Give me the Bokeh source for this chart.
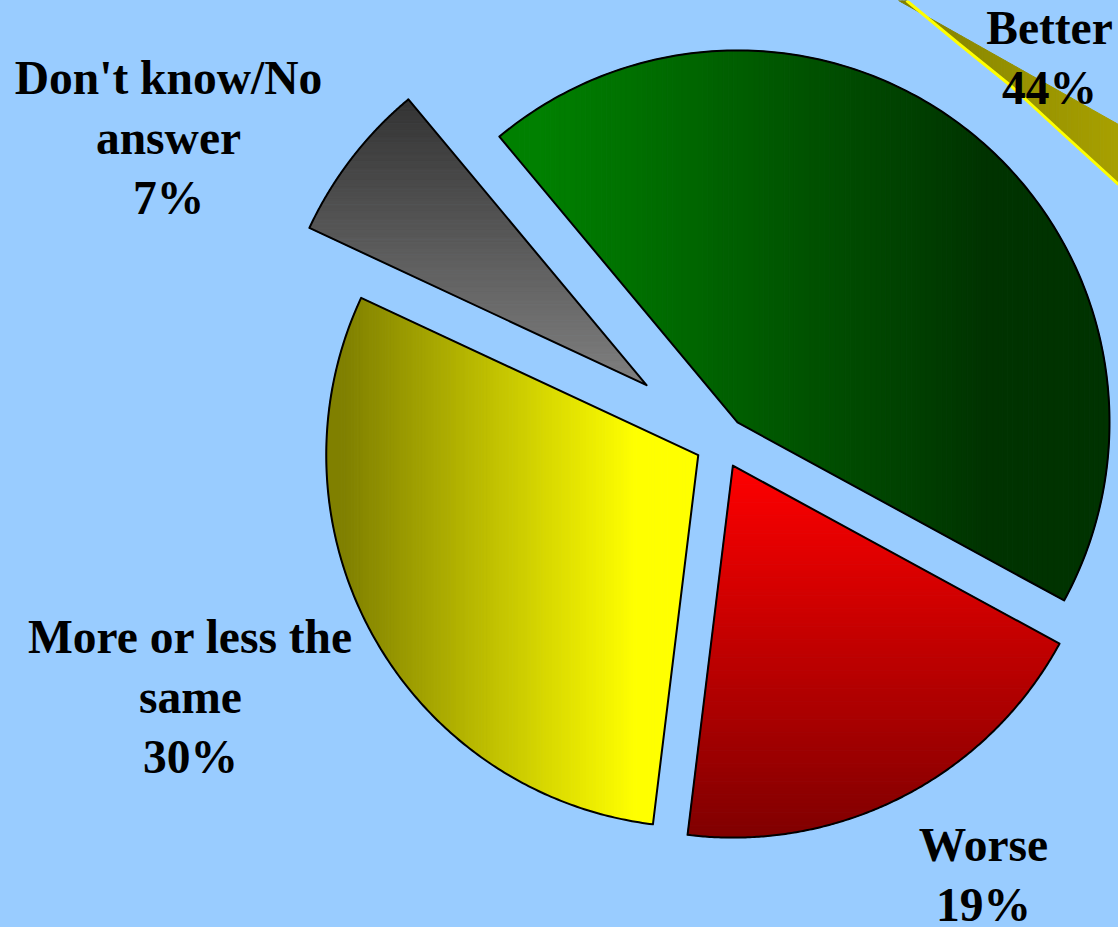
import numpy as np
from bokeh.plotting import figure
from bokeh.models import Range1d
from bokeh.embed import file_html
from bokeh.resources import INLINE
from bokeh.core.properties import value

# ---------------- data ----------------
categories = ["Better", "Worse", "More or less the same", "Don't know/No answer"]
label_lines = [["Better"], ["Worse"], ["More or less the", "same"], ["Don't know/No", "answer"]]
shares = [44, 19, 30, 7]

# ---------------- style / layout ----------------
grad_from = ["#008000", "#FF0000", "#808000", "#333333"]
grad_to = ["#003300", "#800000", "#FFFF00", "#808080"]
grad_dir = ["x", "y", "x", "y"]
grad_span = [(0.07, 0.80), (0.0, 1.0), (0.05, 0.83), (0.0, 1.0)]   # where the ramp runs
BG = "#99CCFF"
W, H = 1118, 927
CX, CY, R = 720.5, 442.0, 372.0          # pie centre / radius (screen px)
START = -39.8                            # start angle, degrees clockwise from 12 o'clock
explode = [26, 26, 26, 94]
label_pos = [(1049, 27), (983, 844), (190, 636), (168, 77)]
LINE_GAP = 60
FONT = value("Liberation Serif")
FSIZE = "47.5px"

# decorative sliver in the top-right corner (upper edge, lower edge)
deco_upper = ([898, 1118], [0, 124])
deco_lower = ([1118, 1060, 1010, 958, 906], [184, 131, 85, 43, 0])


def hex2rgb(h):
    h = h.lstrip("#")
    return np.array([int(h[i:i + 2], 16) for i in (0, 2, 4)], dtype=float)


def rgb2hex(c):
    c = np.clip(np.round(c), 0, 255).astype(int)
    return "#%02x%02x%02x" % tuple(c)


def clip_half(poly, axis, bound, keep_greater):
    out = []
    n = len(poly)
    for i in range(n):
        a = poly[i]
        b = poly[(i + 1) % n]
        ina = a[axis] >= bound if keep_greater else a[axis] <= bound
        inb = b[axis] >= bound if keep_greater else b[axis] <= bound
        if ina:
            out.append(a)
        if ina != inb:
            t = (bound - a[axis]) / (b[axis] - a[axis])
            out.append((a[0] + t * (b[0] - a[0]), a[1] + t * (b[1] - a[1])))
    return out


def gradient_strips(poly, direction, c0, c1, n=120, span=(0.0, 1.0)):
    axis = 0 if direction == "x" else 1
    vals = [pt[axis] for pt in poly]
    lo, hi = min(vals), max(vals)
    edges = np.linspace(lo, hi, n + 1)
    a, b = hex2rgb(c0), hex2rgb(c1)
    xs, ys, cols = [], [], []
    for i in range(n):
        piece = clip_half(poly, axis, edges[i], True)
        if len(piece) < 3:
            continue
        piece = clip_half(piece, axis, edges[i + 1], False)
        if len(piece) < 3:
            continue
        f = (i + 0.5) / n
        t = min(max((f - span[0]) / (span[1] - span[0]), 0.0), 1.0)
        xs.append([q[0] for q in piece])
        ys.append([q[1] for q in piece])
        cols.append(rgb2hex(a + (b - a) * t))
    return xs, ys, cols


p = figure(width=W, height=H, x_range=Range1d(0, W), y_range=Range1d(H, 0),
           output_backend="svg", toolbar_location=None, min_border=0,
           x_axis_location=None, y_axis_location=None,
           background_fill_color=BG, border_fill_color=BG, outline_line_color=None)
p.grid.visible = False

# decorative sliver
deco_poly = list(zip(deco_upper[0], deco_upper[1])) + list(zip(deco_lower[0], deco_lower[1]))
dx, dy, dc = gradient_strips(deco_poly, "x", "#808000", "#A8A000", n=60)
p.patches(dx, dy, fill_color=dc, line_color=dc, line_width=1)
p.line(deco_lower[0], deco_lower[1], line_color="#FFFF00", line_width=3)

# pie wedges
total = float(sum(shares))
angle = START
all_x, all_y = [], []
for k, s in enumerate(shares):
    a0 = angle
    a1 = angle + 360.0 * s / total
    angle = a1
    mid = np.radians((a0 + a1) / 2)
    ox = CX + explode[k] * np.sin(mid)
    oy = CY - explode[k] * np.cos(mid)
    th = np.radians(np.linspace(a0, a1, 200))
    poly = [(ox, oy)] + [(ox + R * np.sin(t), oy - R * np.cos(t)) for t in th]
    xs, ys, cols = gradient_strips(poly, grad_dir[k], grad_from[k], grad_to[k], span=grad_span[k])
    p.patches(xs, ys, fill_color=cols, line_color=cols, line_width=1)
    all_x.append([q[0] for q in poly])
    all_y.append([q[1] for q in poly])

p.patches(all_x, all_y, fill_alpha=0, line_color="black", line_width=2, line_join="round")

# labels
for k, lines in enumerate(label_lines):
    lx, ly = label_pos[k]
    texts = lines + ["%d%%" % shares[k]]
    p.text([lx] * len(texts), [ly + LINE_GAP * i for i in range(len(texts))], text=texts,
           text_font=FONT, text_font_style="bold", text_font_size=FSIZE,
           text_align="center", text_baseline="alphabetic", text_color="black")

html = file_html(p, INLINE)
html = html.replace("</head>", "<style>body{background:%s;}</style></head>" % BG, 1)
open("out.html", "w").write(html)
